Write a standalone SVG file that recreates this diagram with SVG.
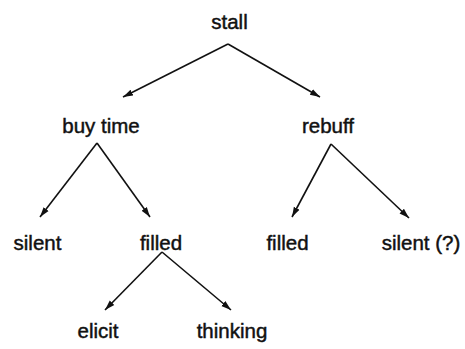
<svg xmlns="http://www.w3.org/2000/svg" width="465" height="349" viewBox="0 0 465 349">
  <style>
    .lbl { font-family: "Liberation Sans", Arial, sans-serif; font-size: 20.5px; fill: #111; stroke: #111; stroke-width: 0.45; text-anchor: middle; }
    .edge { stroke: #111; stroke-width: 1.6; fill: none; marker-end: url(#head); }
  </style>
  <defs>
    <marker id="head" markerUnits="userSpaceOnUse" markerWidth="12" markerHeight="8" refX="10" refY="4" orient="auto">
      <path d="M0,0.8 L10,4 L0,7.2 Z" fill="#111"/>
    </marker>
  </defs>
  <rect width="465" height="349" fill="#fff"/>

  <g id="connectors">
    <line class="edge" x1="228" y1="44" x2="123" y2="97"/>
    <line class="edge" x1="228" y1="44" x2="320" y2="97"/>
    <line class="edge" x1="97" y1="143" x2="40" y2="217"/>
    <line class="edge" x1="97" y1="143" x2="150" y2="217"/>
    <line class="edge" x1="331" y1="144" x2="292" y2="217"/>
    <line class="edge" x1="331" y1="144" x2="409" y2="218"/>
    <line class="edge" x1="162" y1="252" x2="105" y2="310"/>
    <line class="edge" x1="162" y1="252" x2="231" y2="310"/>
  </g>

  <g id="stall"><text class="lbl" x="229.5" y="28.5">stall</text></g>
  <g id="buy-time"><text class="lbl" x="101" y="132.5">buy time</text></g>
  <g id="rebuff"><text class="lbl" x="328" y="132.5">rebuff</text></g>
  <g id="silent"><text class="lbl" x="37.5" y="249.5">silent</text></g>
  <g id="filled-1"><text class="lbl" x="161" y="249.5">filled</text></g>
  <g id="filled-2"><text class="lbl" x="287.5" y="249.5">filled</text></g>
  <g id="silent-q"><text class="lbl" x="421" y="249.5">silent (?)</text></g>
  <g id="elicit"><text class="lbl" x="98" y="338">elicit</text></g>
  <g id="thinking"><text class="lbl" x="232" y="338">thinking</text></g>
</svg>
